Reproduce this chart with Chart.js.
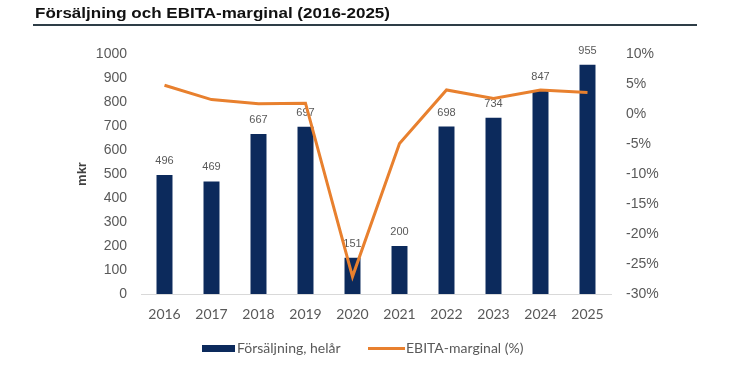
<!DOCTYPE html>
<html>
<head>
<meta charset="utf-8">
<script src="https://cdn.jsdelivr.net/npm/chart.js@4"></script>
<style>
  body { margin: 0; background: #fff; width: 732px; height: 377px; overflow: hidden; position: relative; }
  #wrap { position: absolute; left: 0; top: 0; width: 732px; height: 377px; }
  #title { position: absolute; left: 35px; top: 4px; font: bold 15px "Liberation Sans", Arial, sans-serif; color: #111; white-space: nowrap; transform-origin: left top; }
  #rule { position: absolute; left: 33px; top: 24px; width: 664px; height: 2px; background: #2e3d47; }
  .lg { position: absolute; font: 14px Lato, sans-serif; color: #595959; white-space: nowrap; line-height: 16px; top: 340px; }
  .sw { position: absolute; }
</style>
</head>
<body>
<div id="wrap"><canvas id="chart" width="732" height="377"></canvas></div>
<div id="title">Försäljning och EBITA-marginal (2016-2025)</div>
<div id="rule"></div>
<div class="sw" style="left:202px;top:345px;width:33px;height:7px;background:#0c2a5c"></div>
<div class="lg" style="left:237px">Försäljning, helår</div>
<div class="sw" style="left:368px;top:347px;width:37px;height:3px;background:#e8802e"></div>
<div class="lg" style="left:406px">EBITA-marginal (%)</div>
<script>
const years = ['2016', '2017', '2018', '2019', '2020', '2021', '2022', '2023', '2024', '2025']
const sales = [496, 469, 667, 697, 151, 200, 698, 734, 847, 955]
const margin = [4.8, 2.4, 1.7, 1.8, -27.1, -4.9, 4.0, 2.6, 4.0, 3.6]
const salesTicks = [0, 100, 200, 300, 400, 500, 600, 700, 800, 900, 1000]
const marginTicks = [-30, -25, -20, -15, -10, -5, 0, 5, 10]

// squeeze the title to the width it has in the picture
const t = document.getElementById('title')
t.style.transform = 'scaleX(' + (355 / t.getBoundingClientRect().width) + ')'

// value labels above the bars, drawn before the line so it passes over them
const barLabels = {
  id: 'barLabels',
  afterDatasetDraw (chart, args) {
    if (args.meta.type !== 'bar') return
    const ctx = chart.ctx
    ctx.save()
    ctx.font = '11px "Liberation Sans", Arial, sans-serif'
    ctx.fillStyle = '#595959'
    ctx.textAlign = 'center'
    ctx.textBaseline = 'middle'
    args.meta.data.forEach((bar, i) => {
      ctx.fillText(sales[i], bar.x, bar.y - 14)
    })
    ctx.restore()
  }
}

const tickFont = { family: '"Liberation Sans", Arial, sans-serif', size: 14 }

new Chart(document.getElementById('chart').getContext('2d'), {
  data: {
    labels: years,
    datasets: [
      {
        type: 'line',
        label: 'EBITA-marginal (%)',
        data: margin,
        yAxisID: 'y1',
        borderColor: '#e8802e',
        borderWidth: 3,
        pointRadius: 0,
        tension: 0,
        order: 0
      },
      {
        type: 'bar',
        label: 'Försäljning, helår',
        data: sales,
        yAxisID: 'y',
        backgroundColor: '#0c2a5c',
        categoryPercentage: 1,
        barPercentage: 0.34,
        order: 1
      }
    ]
  },
  options: {
    responsive: false,
    animation: false,
    layout: { padding: { top: 54, left: 0, right: 0, bottom: 0 } },
    scales: {
      x: {
        grid: { display: false, drawTicks: false },
        border: { display: true, color: '#d9d9d9', width: 1 },
        ticks: { color: '#595959', font: { family: 'Lato, sans-serif', size: 14 }, padding: 12 },
        afterFit: s => { s.height = 83 }
      },
      y: {
        position: 'left',
        min: 0,
        max: 1000,
        afterBuildTicks: s => { s.ticks = salesTicks.map(v => ({ value: v })) },
        grid: { display: false, drawTicks: false },
        border: { display: false },
        ticks: { color: '#595959', font: tickFont, padding: 14, callback: v => String(v) },
        title: {
          display: true,
          text: 'mkr',
          color: '#404040',
          font: { family: '"Liberation Sans", Arial, sans-serif', size: 13, weight: 'bold' },
          padding: { top: 75, bottom: 0 }
        },
        afterFit: s => { s.width = 141 }
      },
      y1: {
        position: 'right',
        min: -30,
        max: 10,
        afterBuildTicks: s => { s.ticks = marginTicks.map(v => ({ value: v })) },
        grid: { display: false, drawTicks: false },
        border: { display: false },
        ticks: { color: '#595959', font: tickFont, padding: 15, callback: v => v + '%' },
        afterFit: s => { s.width = 121 }
      }
    },
    plugins: {
      legend: { display: false },
      tooltip: { enabled: false }
    }
  },
  plugins: [barLabels]
})
</script>
</body>
</html>
